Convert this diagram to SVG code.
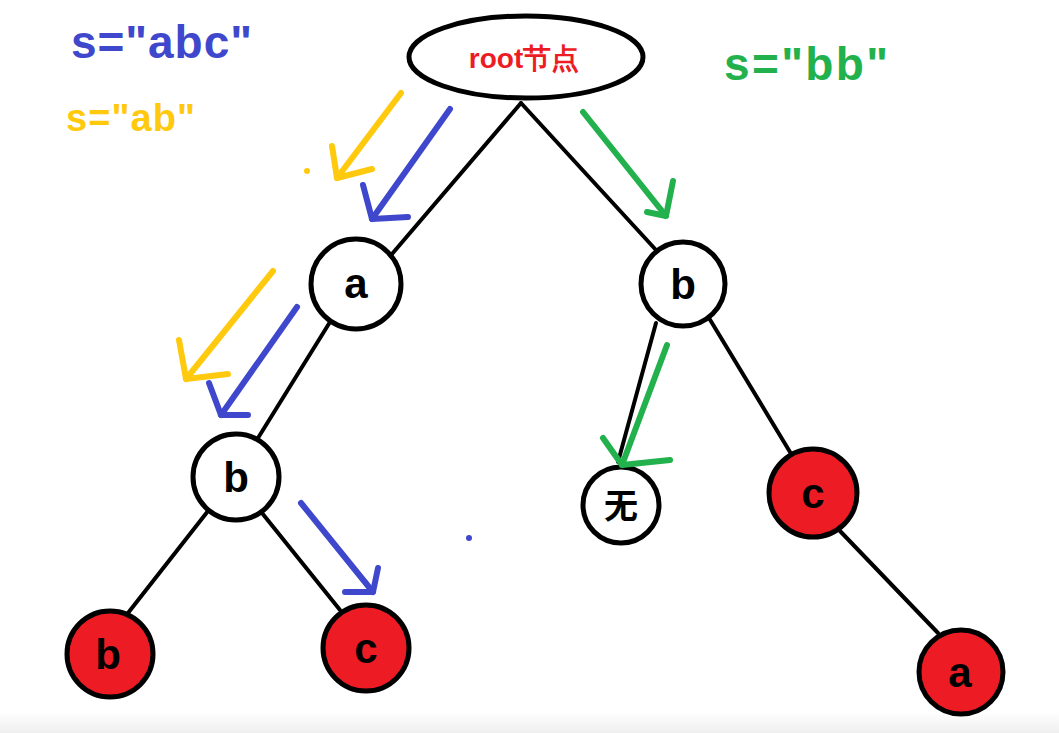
<svg xmlns="http://www.w3.org/2000/svg" width="1059" height="733" viewBox="0 0 1059 733">
<defs>
<linearGradient id="band" x1="0" y1="0" x2="0" y2="1">
<stop offset="0" stop-color="#ffffff"/>
<stop offset="1" stop-color="#efefef"/>
</linearGradient>
</defs>
<style>
.edge{stroke:#000;stroke-width:4;fill:none;stroke-linecap:round}
.node{stroke:#000;stroke-width:5;fill:#fff}
.red{fill:#ed1c24}
.lbl{font-family:"Liberation Sans",Arial,sans-serif;font-weight:bold;font-size:42px;fill:#000;text-anchor:middle}
.arr{fill:none;stroke-width:6;stroke-linecap:round;stroke-linejoin:round}
.y{stroke:#ffc90e}
.b{stroke:#3f48cc}
.g{stroke:#22b14c}
.cap{font-family:"Liberation Sans",Arial,sans-serif;font-weight:bold}
</style>
<rect width="1059" height="733" fill="#fff"/>
<rect x="0" y="712" width="1059" height="21" fill="url(#band)"/>
<g id="connectors">
<line class="edge" x1="521" y1="103" x2="392" y2="254"/>
<line class="edge" x1="521" y1="103" x2="656" y2="250"/>
<line class="edge" x1="330" y1="322" x2="258" y2="438"/>
<line class="edge" x1="208" y1="511" x2="128" y2="613"/>
<line class="edge" x1="262" y1="513" x2="340" y2="610"/>
<line class="edge" x1="656" y1="323" x2="618" y2="462"/>
<line class="edge" x1="709" y1="318" x2="790" y2="452"/>
<line class="edge" x1="840" y1="531" x2="938" y2="633"/>
</g>
<g id="root">
<ellipse class="node" cx="526" cy="57" rx="117" ry="41"/>
<text class="cap" x="524" y="68" font-size="28" fill="#ed1c24" text-anchor="middle" font-family="'Liberation Sans','Noto Sans CJK SC',sans-serif">root节点</text>
</g>
<g id="node-a">
<circle class="node" cx="356" cy="284" r="45"/>
<text class="lbl" x="356" y="298">a</text>
</g>
<g id="node-b-right">
<circle class="node" cx="683" cy="284" r="42"/>
<text class="lbl" x="683" y="299">b</text>
</g>
<g id="node-b-left">
<circle class="node" cx="236" cy="477" r="43"/>
<text class="lbl" x="236" y="492">b</text>
</g>
<g id="node-none">
<circle class="node" cx="621" cy="505" r="38"/>
<text class="lbl" x="621" y="518" style="font-size:34px;font-family:'Noto Sans CJK SC',sans-serif">无</text>
</g>
<g id="node-c-right">
<circle class="node red" cx="813" cy="493" r="44"/>
<text class="lbl" x="813" y="508">c</text>
</g>
<g id="node-b-red">
<circle class="node red" cx="110" cy="654" r="43"/>
<text class="lbl" x="108" y="669">b</text>
</g>
<g id="node-c-left">
<circle class="node red" cx="366" cy="648" r="43"/>
<text class="lbl" x="366" y="663">c</text>
</g>
<g id="node-a-red">
<circle class="node red" cx="961" cy="672" r="42"/>
<text class="lbl" x="960" y="687">a</text>
</g>
<g id="annotations">
<polyline class="arr y" points="401,93 337,178"/>
<polyline class="arr y" points="332,146 337,178 372,169"/>
<polyline class="arr b" points="450,109 372,219"/>
<polyline class="arr b" points="363,185 372,219 408,217"/>
<polyline class="arr g" points="583,112 666,216"/>
<polyline class="arr g" points="673,181 666,216 647,212"/>
<polyline class="arr y" points="273,271 186,379"/>
<polyline class="arr y" points="179,340 186,379 228,374"/>
<polyline class="arr b" points="297,307 221,415"/>
<polyline class="arr b" points="209,383 221,415 248,415"/>
<polyline class="arr g" points="667,345 622,465"/>
<polyline class="arr g" points="603,438 622,465 670,460"/>
<polyline class="arr b" points="301,503 373,592"/>
<polyline class="arr b" points="378,568 373,592 345,592"/>
<circle cx="307" cy="171" r="3" fill="#ffc90e"/>
<circle cx="469" cy="538" r="3" fill="#3f48cc"/>
<text class="cap" x="71" y="58" font-size="46" fill="#3f48cc" textLength="181" lengthAdjust="spacing">s="abc"</text>
<text class="cap" x="66" y="131" font-size="38" fill="#ffc90e" textLength="129" lengthAdjust="spacing">s="ab"</text>
<text class="cap" x="724" y="80" font-size="46" fill="#22b14c" textLength="164" lengthAdjust="spacing">s="bb"</text>
</g>
</svg>
